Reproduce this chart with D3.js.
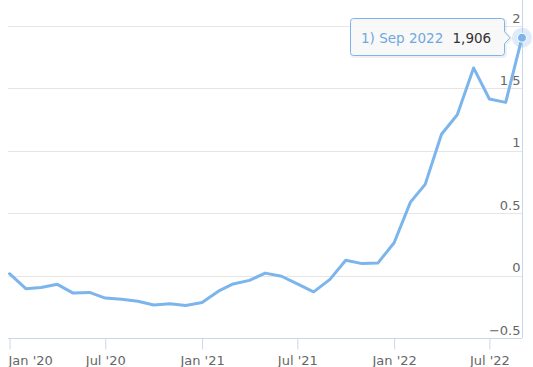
<!DOCTYPE html>
<html>
<head>
<meta charset="utf-8">
<script src="https://cdn.jsdelivr.net/npm/d3@7"></script>
<style>
  body { margin: 0; background: #fff; }
  svg { display: block; font-family: "DejaVu Sans", sans-serif; }
</style>
</head>
<body>
<div id="chart"></div>
<script>
// monthly series, Jan 2020 .. Sep 2022 //
const months = ["2020-01","2020-02","2020-03","2020-04","2020-05","2020-06","2020-07","2020-08","2020-09","2020-10","2020-11","2020-12",
  "2021-01","2021-02","2021-03","2021-04","2021-05","2021-06","2021-07","2021-08","2021-09","2021-10","2021-11","2021-12",
  "2022-01","2022-02","2022-03","2022-04","2022-05","2022-06","2022-07","2022-08","2022-09"];
const values = [0.015, -0.105, -0.095, -0.07, -0.14, -0.135, -0.18, -0.19, -0.205, -0.235, -0.225, -0.24,
  -0.215, -0.125, -0.067, -0.038, 0.02, -0.005, -0.067, -0.13, -0.03, 0.123, 0.096, 0.10,
  0.263, 0.589, 0.731, 1.133, 1.289, 1.664, 1.415, 1.388, 1.906];
const yTicks = [-0.5, 0, 0.5, 1, 1.5, 2];
const tooltipLabel = "1) Sep 2022";
const tooltipValue = "1,906";

const parse = d3.timeParse("%Y-%m");
const data = months.map((m, i) => ({date: parse(m), value: values[i]}));

const width = 533, height = 367;
const plotLeft = 8, plotRight = 522, plotTop = 26, plotBottom = 338;
const lineColor = "#7cb5ec";

const svg = d3.select("#chart")
  .append("svg")
  .attr("width", width)
  .attr("height", height);

const x = d3.scaleTime()
  .domain(d3.extent(data, d => d.date))
  .range([9.5, plotRight]);

const y = d3.scaleLinear()
  .domain([-0.5, 2])
  .range([plotBottom, plotTop]);

// grid lines
svg.append("g")
  .selectAll("line")
  .data(yTicks)
  .join("line")
    .attr("x1", plotLeft)
    .attr("x2", plotRight)
    .attr("y1", d => Math.round(y(d)) + 0.5)
    .attr("y2", d => Math.round(y(d)) + 0.5)
    .attr("stroke", "#e6e6e6");

// y labels (right side, above the grid line)
const fmtY = d => d < 0 ? "\u2212" + Math.abs(d) : String(d);
svg.append("g")
  .selectAll("text")
  .data(yTicks)
  .join("text")
    .attr("x", plotRight - 1.5)
    .attr("y", d => y(d) - 3.5)
    .attr("text-anchor", "end")
    .attr("font-size", 13)
    .attr("fill", "#666")
    .text(fmtY);

// right axis line
svg.append("line")
  .attr("x1", plotRight + 0.5).attr("x2", plotRight + 0.5)
  .attr("y1", 0).attr("y2", plotBottom)
  .attr("stroke", "#ccd6eb");

// x axis
const xAxis = d3.axisBottom(x)
  .ticks(d3.timeMonth.every(6))
  .tickSize(11)
  .tickFormat(d3.timeFormat("%b '%y"));

const gx = svg.append("g")
  .attr("transform", `translate(0, ${plotBottom + 0.5})`)
  .call(xAxis);

gx.select(".domain")
  .attr("d", `M${plotLeft},0H${plotRight}`)
  .attr("stroke", "#ccd6eb");
gx.selectAll(".tick line").attr("stroke", "#ccd6eb");
gx.selectAll(".tick text")
  .attr("y", 17)
  .attr("font-family", "DejaVu Sans, sans-serif")
  .attr("font-size", 13)
  .attr("fill", "#666");
gx.select(".tick text").attr("text-anchor", "start").attr("dx", -1.5);

// the series line
const line = d3.line()
  .x(d => x(d.date))
  .y(d => y(d.value));

svg.append("path")
  .datum(data)
  .attr("fill", "none")
  .attr("stroke", lineColor)
  .attr("stroke-width", 3)
  .attr("stroke-linejoin", "round")
  .attr("stroke-linecap", "round")
  .attr("d", line);

// hovered point
const last = data[data.length - 1];
const px = x(last.date), py = y(last.value);

svg.append("circle")
  .attr("cx", px).attr("cy", py).attr("r", 10)
  .attr("fill", lineColor).attr("fill-opacity", 0.25);
svg.append("circle")
  .attr("cx", px).attr("cy", py).attr("r", 4.5)
  .attr("fill", lineColor)
  .attr("stroke", "#fff")
  .attr("stroke-width", 1);

// tooltip
const tx0 = 350.5, tx1 = 504.5, ty0 = 18.5, ty1 = 55.5, tipX = px - 12, tipY = py;
const tip = svg.append("g");
const tipPath = `M${tx0 + 3},${ty0} H${tx1 - 3} Q${tx1},${ty0} ${tx1},${ty0 + 3}
  V${tipY - 6} L${tipX},${tipY} L${tx1},${tipY + 6}
  V${ty1 - 3} Q${tx1},${ty1} ${tx1 - 3},${ty1} H${tx0 + 3} Q${tx0},${ty1} ${tx0},${ty1 - 3}
  V${ty0 + 3} Q${tx0},${ty0} ${tx0 + 3},${ty0} Z`;

tip.append("path")
  .attr("d", tipPath)
  .attr("transform", "translate(1,1)")
  .attr("fill", "none")
  .attr("stroke", "#000")
  .attr("stroke-opacity", 0.06)
  .attr("stroke-width", 3);
tip.append("path")
  .attr("d", tipPath)
  .attr("fill", "rgba(247,247,247,0.9)")
  .attr("stroke", lineColor)
  .attr("stroke-width", 1);

const tt = tip.append("text")
  .attr("y", 42.5)
  .attr("font-size", 13.5);
tt.append("tspan").attr("x", 361).attr("fill", "#6fa8e0").text(tooltipLabel);
tt.append("tspan").attr("x", 452.5).attr("fill", "#333").text(tooltipValue);
</script>
</body>
</html>
